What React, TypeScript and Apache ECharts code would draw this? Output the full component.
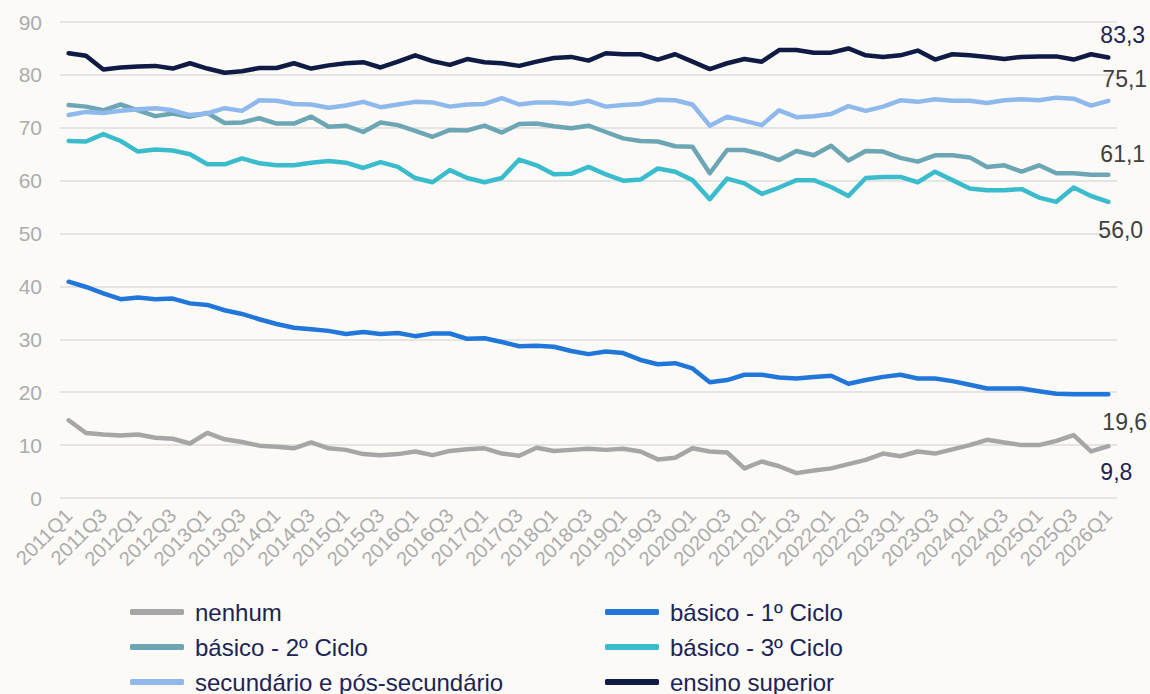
import React, { useEffect, useRef } from "react";
import * as echarts from "echarts";

const categories: string[] = [];
for (let y = 2011; y <= 2026; y++) {
  for (let q = 1; q <= 4; q++) {
    if (y === 2026 && q > 1) break;
    categories.push(`${y}Q${q}`);
  }
}

const nenhum = [14.7, 12.3, 12.0, 11.8, 12.0, 11.4, 11.2, 10.3, 12.3, 11.1, 10.6, 9.9, 9.7, 9.4, 10.5, 9.4, 9.1, 8.3, 8.1, 8.3, 8.8, 8.1, 8.9, 9.2, 9.4, 8.4, 8.0, 9.5, 8.9, 9.1, 9.3, 9.1, 9.3, 8.8, 7.3, 7.6, 9.4, 8.8, 8.6, 5.6, 6.9, 6.0, 4.7, 5.2, 5.6, 6.4, 7.2, 8.4, 7.9, 8.8, 8.4, 9.2, 10.0, 11.0, 10.5, 10.0, 10.0, 10.8, 11.9, 8.8, 9.8];
const basico1 = [40.9, 39.9, 38.7, 37.6, 37.9, 37.6, 37.7, 36.8, 36.5, 35.5, 34.8, 33.8, 32.9, 32.2, 31.9, 31.6, 31.0, 31.4, 31.0, 31.2, 30.6, 31.1, 31.1, 30.1, 30.2, 29.5, 28.7, 28.8, 28.6, 27.8, 27.2, 27.7, 27.4, 26.1, 25.3, 25.5, 24.5, 21.9, 22.3, 23.3, 23.3, 22.8, 22.6, 22.9, 23.1, 21.6, 22.3, 22.9, 23.3, 22.6, 22.6, 22.1, 21.4, 20.7, 20.7, 20.7, 20.2, 19.7, 19.6, 19.6, 19.6];
const basico2 = [74.3, 74.0, 73.3, 74.4, 73.3, 72.2, 72.7, 72.1, 72.8, 70.9, 71.0, 71.8, 70.8, 70.8, 72.1, 70.2, 70.4, 69.2, 71.0, 70.5, 69.4, 68.3, 69.6, 69.5, 70.4, 69.1, 70.7, 70.8, 70.3, 69.9, 70.4, 69.2, 68.0, 67.5, 67.4, 66.5, 66.4, 61.4, 65.8, 65.8, 65.0, 63.9, 65.6, 64.8, 66.6, 63.8, 65.6, 65.5, 64.3, 63.6, 64.8, 64.8, 64.4, 62.6, 62.9, 61.7, 62.9, 61.4, 61.4, 61.1, 61.1];
const basico3 = [67.5, 67.4, 68.8, 67.5, 65.5, 65.9, 65.7, 65.0, 63.1, 63.1, 64.2, 63.3, 62.9, 62.9, 63.4, 63.7, 63.4, 62.4, 63.5, 62.6, 60.5, 59.7, 62.0, 60.5, 59.7, 60.5, 64.0, 62.9, 61.2, 61.3, 62.6, 61.2, 60.0, 60.2, 62.3, 61.7, 60.1, 56.5, 60.4, 59.5, 57.5, 58.7, 60.1, 60.1, 58.8, 57.1, 60.5, 60.7, 60.7, 59.7, 61.7, 60.1, 58.5, 58.2, 58.2, 58.4, 56.8, 56.0, 58.7, 57.1, 56.0];
const secundario = [72.4, 73.0, 72.8, 73.2, 73.5, 73.7, 73.3, 72.4, 72.7, 73.7, 73.2, 75.2, 75.1, 74.5, 74.4, 73.8, 74.2, 74.9, 73.9, 74.4, 74.9, 74.8, 74.0, 74.4, 74.5, 75.6, 74.4, 74.8, 74.8, 74.5, 75.1, 74.0, 74.3, 74.5, 75.3, 75.2, 74.4, 70.4, 72.1, 71.3, 70.5, 73.3, 72.0, 72.2, 72.6, 74.1, 73.2, 74.0, 75.2, 74.9, 75.4, 75.1, 75.1, 74.7, 75.2, 75.4, 75.2, 75.7, 75.5, 74.2, 75.1];
const superior = [84.1, 83.6, 81.0, 81.4, 81.6, 81.7, 81.2, 82.2, 81.2, 80.4, 80.7, 81.3, 81.3, 82.2, 81.2, 81.8, 82.2, 82.4, 81.4, 82.5, 83.7, 82.6, 81.9, 83.0, 82.4, 82.2, 81.7, 82.5, 83.2, 83.4, 82.7, 84.1, 83.9, 83.9, 82.9, 83.9, 82.5, 81.1, 82.2, 83.0, 82.5, 84.7, 84.7, 84.2, 84.2, 85.0, 83.7, 83.4, 83.7, 84.6, 82.9, 83.9, 83.7, 83.4, 83.0, 83.4, 83.5, 83.5, 82.9, 83.9, 83.3];

const seriesNames = ["nenhum", "básico - 1º Ciclo", "básico - 2º Ciclo", "básico - 3º Ciclo", "secundário e pós-secundário", "ensino superior"];
const seriesData = [nenhum, basico1, basico2, basico3, secundario, superior];
const seriesColors = ["#a6a6a6", "#2176d9", "#6ca6b4", "#3bbccd", "#8fb9ec", "#0f1a45"];
// end label: [color, offsetX, offsetY]
const endLabelStyle: [string, number, number][] = [
  ["#1b2455", -13, 26],
  ["#404040", -11, 28],
  ["#404040", -13, -21],
  ["#404040", -15, 28],
  ["#404040", -11, -22],
  ["#1b2455", -13, -22],
];

function fmt(v: number) {
  return v.toFixed(1).replace(".", ",");
}

const FONT = "Liberation Sans, Arial, sans-serif";

export default function App() {
  const ref = useRef<HTMLDivElement>(null);
  useEffect(() => {
    document.body.style.margin = "0";
    document.body.style.background = "#fbfaf7";
    const chart = echarts.init(ref.current!, null, { renderer: "svg" });
    const series = seriesNames.map((name, si) => {
      const arr = seriesData[si];
      const [lc, ox, oy] = endLabelStyle[si];
      return {
        name,
        type: "line",
        symbol: "none",
        showSymbol: false,
        lineStyle: { width: 4.5, color: seriesColors[si], cap: "round", join: "round" },
        itemStyle: { color: seriesColors[si] },
        data: arr,
        endLabel: {
          show: true,
          formatter: () => fmt(arr[arr.length - 1]),
          color: lc,
          fontSize: 23,
          fontFamily: FONT,
          distance: 5,
          offset: [ox, oy],
        },
        emphasis: { disabled: true },
      };
    });
    const legendCommon = {
      orient: "vertical",
      itemWidth: 54,
      itemHeight: 6,
      itemGap: 11,
      padding: 0,
      height: 100,
      icon: "roundRect",
      textStyle: { color: "#1b2455", fontSize: 24, lineHeight: 24, fontFamily: FONT, padding: [0, 0, 0, 6] },
      selectedMode: false,
    };
    chart.setOption({
      animation: false,
      backgroundColor: "#fbfaf7",
      textStyle: { fontFamily: FONT },
      grid: { left: 60, right: 33, top: 22, bottom: 196, containLabel: false },
      legend: [
        { ...legendCommon, left: 130, top: 600, data: [seriesNames[0], seriesNames[2], seriesNames[4]] },
        { ...legendCommon, left: 605, top: 600, data: [seriesNames[1], seriesNames[3], seriesNames[5]] },
      ],
      xAxis: {
        type: "category",
        data: categories,
        boundaryGap: true,
        axisLine: { show: false },
        axisTick: { show: false },
        axisLabel: {
          interval: 1,
          rotate: 45,
          color: "#acacac",
          fontSize: 20,
          margin: 14,
        },
      },
      yAxis: {
        type: "value",
        min: 0,
        max: 90,
        interval: 10,
        axisLine: { show: false },
        axisTick: { show: false },
        axisLabel: { color: "#acacac", fontSize: 21, margin: 18 },
        splitLine: { lineStyle: { color: "#dcdcdc", width: 1.5 } },
      },
      series,
    });
    return () => chart.dispose();
  }, []);
  return <div ref={ref} style={{ width: 1150, height: 694 }} />;
}
